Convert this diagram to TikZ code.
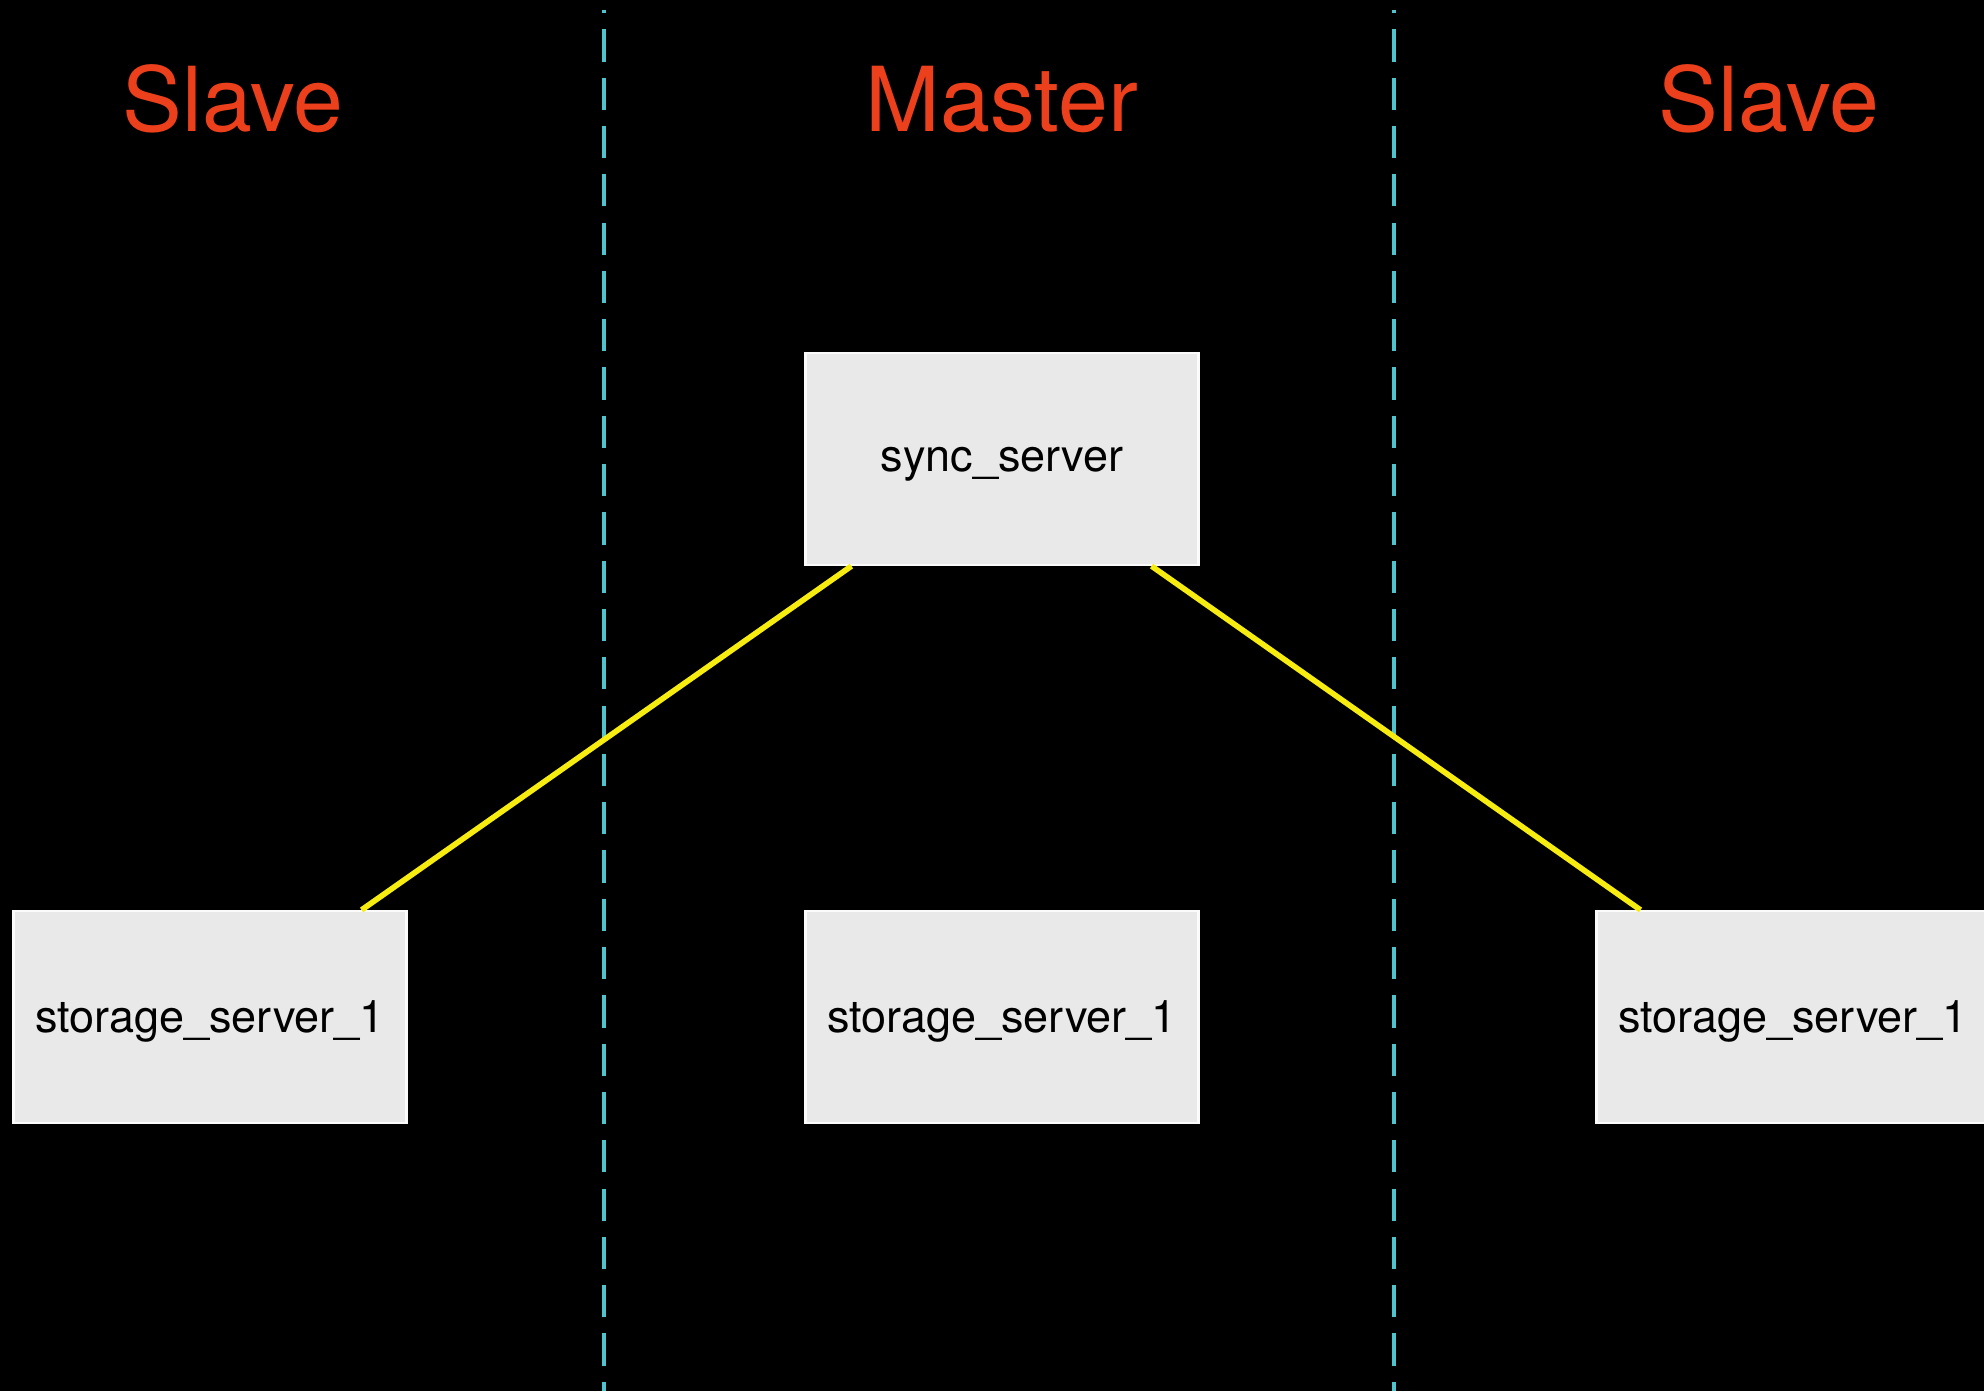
\documentclass[tikz,border=0pt]{standalone}
\usepackage{fontspec}
\setmainfont{TeX Gyre Heros}
\usetikzlibrary{positioning, calc}

\definecolor{titlered}{RGB}{236,64,28}
\definecolor{splitcyan}{RGB}{80,196,204}
\definecolor{linkyellow}{RGB}{246,236,16}
\definecolor{boxgray}{RGB}{233,233,233}

\begin{document}
\begin{tikzpicture}[
        node distance=5.58cm and 7.92cm,
        on grid,
        every node/.style={font=\fontsize{12.8}{15}\selectfont},
        server/.style={fill=boxgray, draw=white!80!boxgray, line width=0.6pt,
            minimum width=3.93cm, minimum height=2.12cm, inner sep=0pt,
            text depth=0pt},
        role/.style={text=titlered, anchor=base, font=\fontsize{25.5}{30}\selectfont},
        divider/.style={splitcyan, line width=1.1pt,
            dash pattern=on 0.322cm off 0.161cm, dash phase=0.29cm},
        link/.style={linkyellow, line width=1.6pt}
    ]

    % Black page
    \fill[black] (0,0) rectangle (19.84,-13.91);
    \useasboundingbox (0,0) rectangle (19.84,-13.91);

    % Column dividers
    \coordinate (divLtop) at (6.04,-0.10);
    \coordinate (divLbot) at (6.04,-13.91);
    \coordinate (divRtop) at (13.94,-0.10);
    \coordinate (divRbot) at (13.94,-13.91);
    \draw[divider] (divLtop) -- (divLbot);
    \draw[divider] (divRtop) -- (divRbot);

    % Column titles
    \node[role] (slaveL) at (2.33,-1.31) {Slave};
    \node[role] (master) at (10.02,-1.31) {Master};
    \node[role] (slaveR) at (17.69,-1.31) {Slave};

    % Servers
    \node[server] (sync) at (10.02,-4.59) {sync\_server};
    \node[server, below=of sync] (storM) {storage\_server\_1};
    \node[server, left=of storM] (storL) {storage\_server\_1};
    \node[server, right=7.91cm of storM] (storR) {storage\_server\_1};

    % Links from sync_server to the slaves
    \draw[link] ($(sync.south west)+(0.47,0)$) -- ($(storL.north east)+(-0.46,0)$);
    \draw[link] ($(sync.south east)+(-0.48,0)$) -- ($(storR.north west)+(0.45,0)$);

\end{tikzpicture}
\end{document}
